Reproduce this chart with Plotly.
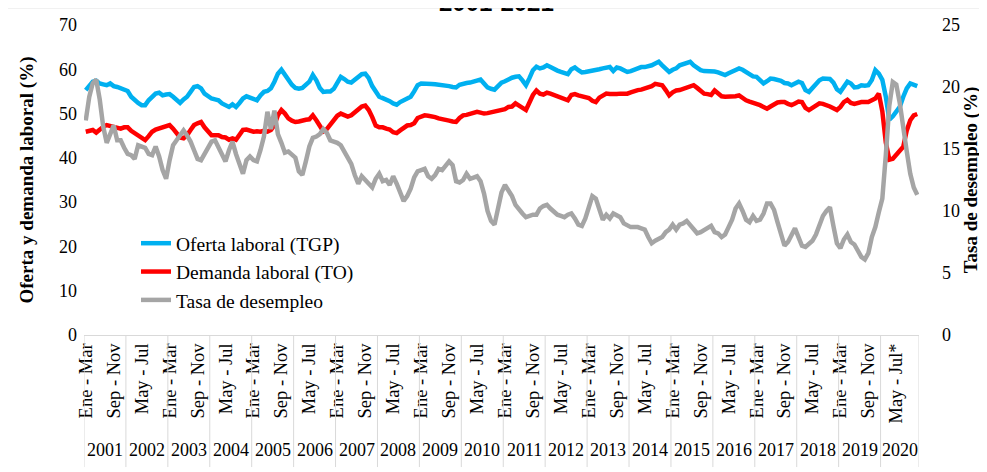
import plotly.graph_objects as go

# Trimestres moviles, Ene-Mar 2001 a Nov-Ene 2020
anios = list(range(2001, 2021))
meses = ["Ene-Mar", "Feb-Abr", "Mar-May", "Abr-Jun", "May-Jul", "Jun-Ago",
         "Jul-Sep", "Ago-Oct", "Sep-Nov", "Oct-Dic", "Nov-Ene", "Dic-Feb"]
meses_2020 = 11

# Oferta laboral (TGP), %
tgp = [
    55.3, 56.4, 57.2, 57.4, 56.8, 56.6, 56.4, 56.8, 56.2, 56.0, 55.7, 55.4,  # 2001
    55.1, 53.8, 53.0, 52.4, 51.9, 51.9, 53.0, 53.8, 54.5, 54.7, 54.1, 54.3,  # 2002
    54.4, 53.8, 53.0, 52.4, 53.2, 53.8, 54.9, 56.0, 56.2, 55.7, 54.5, 53.8,  # 2003
    53.4, 53.2, 53.0, 52.3, 51.9, 51.5, 52.1, 51.5, 52.4, 53.4, 53.9, 53.6,  # 2004
    53.2, 53.0, 54.1, 54.9, 55.1, 55.7, 57.2, 59.0, 59.9, 58.7, 57.5, 56.5,  # 2005
    55.8, 55.6, 55.8, 56.4, 57.2, 58.7, 57.5, 55.8, 54.9, 55.0, 55.0, 55.6,  # 2006
    57.0, 58.3, 57.8, 57.2, 57.0, 57.6, 58.3, 58.9, 59.0, 58.0, 56.2, 54.8,  # 2007
    53.8, 53.5, 53.2, 52.8, 52.3, 52.0, 52.6, 53.0, 53.2, 53.8, 55.0, 56.4,  # 2008
    56.8, 56.8, 56.9, 56.7, 56.6, 56.5, 56.5, 56.5, 56.2, 56.0, 55.9, 56.5,  # 2009
    56.8, 56.9, 57.0, 57.3, 57.6, 57.7, 56.8, 55.9, 55.6, 55.4, 56.2, 57.0,  # 2010
    57.3, 57.8, 58.1, 58.3, 58.4, 57.5, 56.4, 58.0, 59.8, 60.6, 60.2, 60.4,  # 2011
    60.9, 60.5, 60.0, 59.7, 59.4, 59.1, 58.9, 60.0, 60.4, 59.8, 59.3, 59.4,  # 2012
    59.5, 59.8, 59.9, 60.0, 60.2, 60.4, 60.5, 59.6, 60.4, 60.2, 59.8, 59.4,  # 2013
    59.6, 59.9, 60.4, 60.5, 60.5, 60.6, 60.9, 61.3, 61.7, 60.9, 60.0, 59.4,  # 2014
    59.9, 60.2, 60.9, 61.2, 61.5, 61.7, 60.9, 60.3, 59.8, 59.6, 59.6, 59.7,  # 2015
    59.5, 59.3, 58.9, 58.7, 59.1, 59.4, 59.9, 60.2, 59.9, 59.4, 58.7, 58.4,  # 2016
    58.3, 57.6, 56.8, 57.3, 57.9, 57.8, 57.6, 57.4, 56.9, 56.8, 56.4, 56.8,  # 2017
    57.2, 56.9, 55.3, 54.9, 55.8, 56.5, 57.5, 57.9, 57.9, 57.8, 57.0, 55.5,  # 2018
    54.9, 56.0, 57.2, 56.8, 55.9, 56.0, 56.4, 56.3, 56.4, 57.6, 59.8, 59.0,  # 2019
    57.6, 53.8, 48.6, 49.4, 50.6, 51.5, 53.8, 55.7, 56.8, 56.6, 56.2,        # 2020
]

# Demanda laboral (TO), %
to = [
    45.9, 46.0, 46.3, 45.7, 46.4, 47.0, 47.4, 47.2, 46.9, 46.9, 46.6, 46.9,  # 2001
    46.9, 46.1, 45.5, 44.9, 44.4, 44.0, 44.9, 45.9, 46.4, 46.6, 47.0, 47.2,  # 2002
    47.4, 46.6, 45.5, 44.6, 44.4, 45.1, 46.3, 47.4, 47.8, 48.1, 46.9, 45.9,  # 2003
    45.1, 45.1, 45.1, 44.7, 44.6, 44.1, 44.4, 44.1, 45.1, 46.3, 46.4, 46.1,  # 2004
    45.9, 46.0, 45.9, 46.1, 45.9, 46.3, 47.4, 49.6, 50.8, 50.0, 48.9, 48.4,  # 2005
    48.1, 48.2, 48.5, 48.6, 48.7, 49.6, 48.5, 47.3, 46.0, 46.5, 47.5, 48.8,  # 2006
    49.5, 50.0, 49.7, 49.3, 49.6, 50.2, 51.0, 51.6, 51.8, 50.8, 49.2, 47.3,  # 2007
    46.9, 46.9, 46.6, 46.4, 45.8, 45.6, 46.2, 46.8, 47.3, 47.4, 47.8, 49.0,  # 2008
    49.4, 49.6, 49.5, 49.4, 49.2, 48.9, 48.8, 48.6, 48.4, 48.2, 48.1, 49.0,  # 2009
    49.6, 49.7, 49.9, 50.2, 50.4, 50.2, 50.0, 50.1, 50.3, 50.4, 50.5, 50.9,  # 2010
    51.0, 51.5, 51.6, 52.3, 51.8, 51.3, 50.8, 52.5, 54.2, 55.2, 54.5, 54.3,  # 2011
    54.7, 54.5, 54.2, 54.0, 53.7, 53.4, 53.0, 54.2, 54.4, 54.1, 53.9, 53.7,  # 2012
    53.5, 52.9, 52.6, 53.6, 54.2, 54.5, 54.4, 54.3, 54.4, 54.5, 54.5, 54.5,  # 2013
    54.8, 55.1, 55.3, 55.4, 55.6, 55.9, 56.2, 56.7, 56.6, 56.4, 55.3, 54.1,  # 2014
    54.8, 55.2, 55.3, 55.6, 56.0, 56.3, 56.4, 55.8, 55.1, 54.5, 54.4, 54.2,  # 2015
    55.2, 54.6, 53.9, 53.8, 53.8, 53.8, 53.9, 54.1, 53.5, 53.0, 52.7, 52.5,  # 2016
    52.2, 51.9, 51.5, 51.1, 51.6, 52.2, 52.5, 52.6, 52.6, 52.2, 51.9, 52.3,  # 2017
    52.7, 52.6, 51.3, 50.8, 51.3, 52.0, 52.3, 52.2, 52.0, 51.6, 51.2, 50.8,  # 2018
    51.5, 52.6, 53.1, 52.4, 52.2, 52.5, 52.6, 52.6, 52.6, 53.0, 53.4, 54.5,  # 2019
    50.5, 43.5, 39.6, 39.8, 40.6, 41.4, 42.5, 46.2, 48.5, 49.6, 49.9,        # 2020
]

# Tasa de desempleo, %
desempleo = [
    17.3, 19.2, 20.3, 20.6, 19.0, 16.8, 15.5, 16.1, 16.9, 15.7, 15.7, 15.1,  # 2001
    14.6, 14.5, 14.2, 15.3, 15.2, 15.1, 14.6, 14.5, 15.2, 14.4, 13.3, 12.6,  # 2002
    14.1, 15.3, 15.7, 16.1, 16.5, 16.1, 15.6, 14.9, 14.2, 14.1, 14.6, 15.2,  # 2003
    15.6, 15.7, 15.1, 14.4, 14.0, 14.9, 15.6, 14.6, 13.7, 13.0, 14.1, 14.4,  # 2004
    14.1, 14.0, 14.9, 16.0, 18.0, 16.6, 18.1, 16.2, 15.5, 14.7, 14.8, 14.5,  # 2005
    14.3, 13.2, 12.9, 14.0, 15.2, 15.9, 16.0, 16.2, 16.6, 16.3, 15.7, 15.6,  # 2006
    15.5, 15.3, 14.8, 14.2, 13.8, 12.9, 12.2, 12.8, 12.5, 12.1, 11.9, 12.6,  # 2007
    13.0, 12.4, 12.5, 12.1, 12.8, 12.2, 11.5, 10.8, 11.2, 11.8, 12.7, 13.2,  # 2008
    13.3, 13.4, 12.8, 12.6, 12.9, 13.4, 13.3, 13.7, 14.0, 13.7, 12.4, 12.3,  # 2009
    12.5, 13.0, 12.6, 12.7, 12.8, 12.4, 11.4, 10.0, 9.2, 8.9, 10.3, 11.5,    # 2010
    12.1, 11.7, 11.2, 10.5, 10.1, 9.8, 9.5, 9.6, 9.7, 9.7, 10.2, 10.4,       # 2011
    10.5, 10.2, 9.9, 9.7, 9.6, 9.5, 9.7, 9.8, 9.4, 8.9, 8.8, 9.4,            # 2012
    10.3, 11.2, 11.0, 10.1, 9.3, 9.7, 9.4, 9.8, 9.6, 9.5, 9.0, 8.8,          # 2013
    8.7, 8.7, 8.7, 8.6, 8.5, 7.9, 7.4, 7.6, 7.8, 7.9, 8.3, 8.5,              # 2014
    8.9, 8.5, 8.9, 9.0, 9.2, 8.9, 8.6, 8.2, 8.3, 8.5, 8.7, 8.8,              # 2015
    8.3, 8.2, 7.9, 8.1, 8.7, 9.3, 10.2, 10.6, 10.0, 9.3, 9.1, 9.6,           # 2016
    9.2, 9.3, 9.8, 10.6, 10.6, 10.1, 9.1, 8.0, 7.2, 7.5, 8.1, 8.6,           # 2017
    7.9, 7.2, 7.1, 7.3, 7.6, 8.1, 8.8, 9.6, 10.0, 10.3, 8.8, 7.4,            # 2018
    7.0, 7.7, 8.1, 7.5, 7.3, 6.8, 6.3, 6.1, 6.6, 7.9, 8.7, 9.9,              # 2019
    11.0, 14.5, 18.5, 20.4, 20.2, 18.7, 17.0, 14.8, 13.0, 11.9, 11.3,        # 2020
]

etiquetas = {"Ene-Mar": "Ene - Mar", "Sep-Nov": "Sep - Nov", "May-Jul": "May - Jul"}

# categorias unicas: "Ene-Mar 2001", ...
cats, cat_mes, cat_anio = [], [], []
for a in anios:
    lista = meses if a < 2020 else meses[:meses_2020]
    for m in lista:
        cats.append(f"{m} {a}")
        cat_mes.append(m)
        cat_anio.append(a)
assert len(cats) == len(tgp) == len(to) == len(desempleo)

tickvals = cats[::8]
ticktext = [etiquetas[cat_mes[i]] + ("*" if cat_anio[i] == 2020 else "")
            for i in range(0, len(cats), 8)]

serif = "Liberation Serif"

fig = go.Figure()
fig.add_trace(go.Scatter(x=cats, y=tgp, name="Oferta laboral (TGP)", mode="lines",
                         line=dict(color="#00b0f0", width=4.5), legendgroup="a"))
fig.add_trace(go.Scatter(x=cats, y=to, name="Demanda laboral (TO)", mode="lines",
                         line=dict(color="#ff0000", width=4.5), legendgroup="b"))
fig.add_trace(go.Scatter(x=cats, y=desempleo, name="Tasa de desempleo", mode="lines",
                         line=dict(color="#a5a5a5", width=4.5), legendgroup="c",
                         yaxis="y2"))

# fondo blanco del grafico (deja una franja gris a la derecha)
shapes = [dict(type="rect", xref="paper", yref="paper", x0=-0.091, x1=1.0754,
               y0=-0.6, y1=1.0516, fillcolor="white", line_width=0, layer="below")]
annotations = []
inicio = 0
for a in anios:
    n = cat_anio.count(a)
    annotations.append(dict(x=inicio + (n - 1) / 2, y=-0.41, xref="x", yref="paper",
                            text=str(a), showarrow=False,
                            font=dict(family=serif, size=18, color="black")))
    shapes.append(dict(type="line", xref="x", yref="paper", x0=inicio - 0.5,
                       x1=inicio - 0.5, y0=0, y1=-0.426,
                       line=dict(color="#d9d9d9", width=1)))
    inicio += n
shapes.append(dict(type="line", xref="x", yref="paper", x0=inicio - 0.5,
                   x1=inicio - 0.5, y0=0, y1=-0.426, line=dict(color="#d9d9d9", width=1)))

# titulo (solo se ve su parte inferior, como en el original)
annotations.append(dict(x=0.4946, y=1.0226, xref="paper", yref="paper", yanchor="bottom",
                        text="<b>2001-2021</b>", showarrow=False,
                        font=dict(family="Liberation Sans", size=24, color="black")))

fig.update_layout(
    template="none",
    width=987, height=472,
    margin=dict(l=76, r=76, t=17, b=145),
    paper_bgcolor="#f1f1f1",
    plot_bgcolor="white",
    font=dict(family=serif, size=18, color="black"),
    showlegend=True,
    legend=dict(x=0.0623, y=0.358, xanchor="left", yanchor="top",
                bgcolor="rgba(0,0,0,0)", tracegroupgap=0,
                font=dict(family=serif, size=19.5, color="black")),
    xaxis=dict(type="category", categoryorder="array", categoryarray=cats,
               range=[-0.5, len(cats) - 0.5], tickmode="array",
               tickvals=tickvals, ticktext=ticktext, tickangle=-90,
               showgrid=False, zeroline=False, showline=True,
               linecolor="#d9d9d9", linewidth=1, ticks="",
               tickfont=dict(family=serif, size=18.5)),
    yaxis=dict(range=[0, 70], dtick=10, showgrid=False, zeroline=False,
               showline=False, ticks="", ticklabelstandoff=6,
               tickfont=dict(family=serif, size=18),
               title=dict(text="<b>Oferta y demanda laboral (%)</b>", standoff=20,
                          font=dict(family=serif, size=19))),
    yaxis2=dict(range=[0, 25], dtick=5, overlaying="y", side="right",
                showgrid=False, zeroline=False, showline=False, ticks="",
                ticklabelstandoff=22, tickfont=dict(family=serif, size=18),
                title=dict(text="<b>Tasa de desempleo (%)</b>", standoff=0,
                           font=dict(family=serif, size=19))),
    shapes=shapes,
    annotations=annotations,
)

fig.write_html("out.html")
